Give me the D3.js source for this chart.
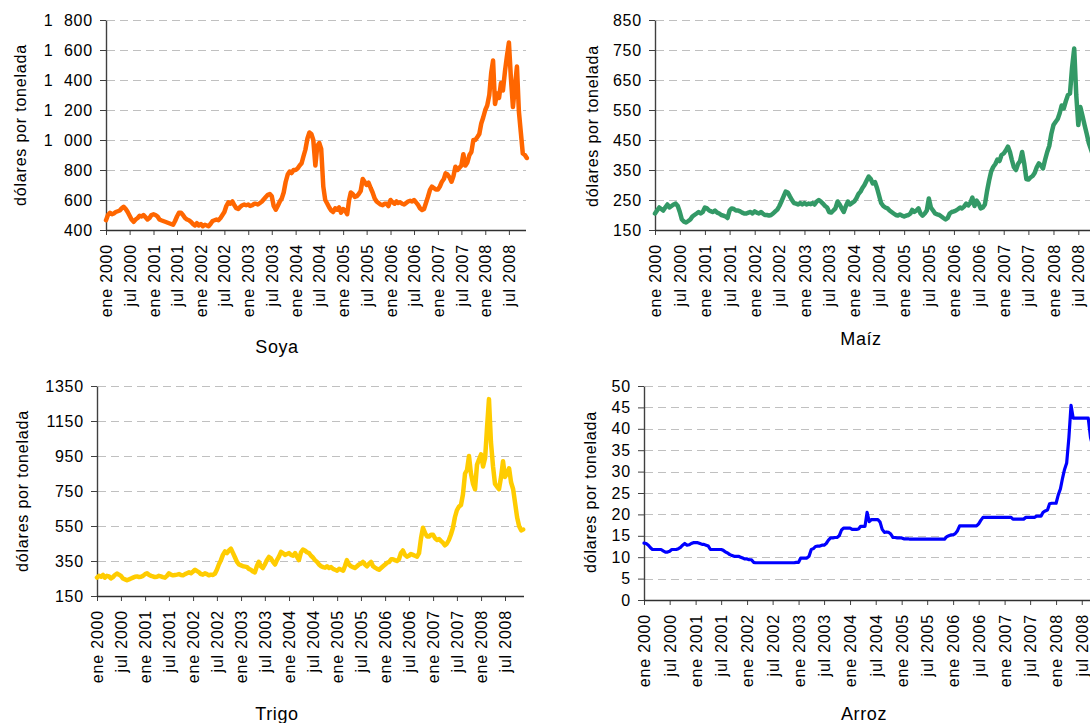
<!DOCTYPE html>
<html>
<head>
<meta charset="utf-8">
<script src="https://d3js.org/d3.v7.min.js"></script>
<style>
body { margin: 0; background: #fff; }
svg text { font-family: "Liberation Sans", Arial, sans-serif; fill: #000; }
</style>
</head>
<body>
<div id="chart"></div>
<script>

// precios, dos lecturas por mes (dia 1 y 16), ene 2000 - nov 2008
var soya = [
  465,500, 515,505, 510,520, 525,530, 545,555, 540,520, 495,470, 455,470, 480,495, 490,500, 485,470, 480,500,
  505,500, 490,470, 465,460, 455,450, 445,440, 435,460, 490,515, 515,500, 480,470, 465,455, 440,430, 445,430,
  440,425, 435,430, 425,440, 460,465, 470,465, 480,500, 520,560, 585,575, 590,565, 545,540, 555,565, 570,565,
  570,560, 565,575, 575,570, 580,590, 605,620, 635,640, 625,560, 535,560, 590,610, 650,720, 770,790, 780,800,
  800,810, 830,845, 890,935, 1010,1050, 1040,1000, 830,960, 980,940, 690,600, 575,550, 530,520, 545,535, 550,515,
  540,530, 505,600, 650,640, 620,625, 640,660, 740,720, 700,715, 680,650, 610,590, 580,570, 565,575, 575,560,
  600,585, 575,590, 580,585, 575,570, 580,590, 595,590, 600,585, 567,545, 533,540, 580,620, 667,689, 680,670,
  670,690, 722,740, 778,770, 750,722, 760,822, 800,815, 830,905, 830,850, 900,920, 1000,1000, 1020,1040, 1110,1150,
  1200,1230, 1300,1450, 1530,1240, 1310,1280, 1380,1330, 1460,1560, 1650,1420, 1220,1350, 1490,1190, 1050,910, 900,880
]

var maiz = [
  205,215, 225,220, 215,225, 235,225, 230,235, 238,230, 210,185, 178,175, 180,185, 195,200, 205,210, 205,210,
  225,222, 215,212, 210,215, 208,205, 200,198, 195,190, 215,222, 220,215, 215,212, 208,205, 205,208, 210,205,
  212,208, 205,210, 205,200, 200,198, 200,205, 212,218, 230,245, 262,278, 275,262, 250,240, 238,235, 240,235,
  240,235, 238,236, 240,235, 245,250, 245,238, 230,225, 210,208, 215,222, 245,235, 222,210, 230,245, 235,240,
  245,255, 270,278, 290,300, 315,328, 320,305, 310,290, 265,240, 230,225, 222,215, 210,205, 200,198, 202,198,
  195,198, 200,205, 217,210, 215,222, 205,198, 205,215, 255,225, 215,205, 202,200, 195,190, 185,190,
  205,210, 212,215, 220,225, 222,228, 238,232, 240,258, 230,248, 238,222, 225,235, 280,315, 345,360, 370,385,
  380,400, 405,415, 428,410, 385,360, 350,370, 380,410, 370,320, 318,325, 330,340, 360,372, 365,355, 385,410,
  430,470, 500,510, 520,540, 565,555, 580,600, 605,690, 755,600, 500,560, 530,500, 470,440, 420,400
]

var trigo = [
  255,265, 260,270, 255,265, 262,250, 258,270, 278,272, 265,250, 245,240, 245,250, 255,260, 262,258, 260,265,
  275,280, 270,265, 262,258, 260,265, 262,258, 255,265, 280,272, 268,270, 272,275, 270,268, 275,280, 285,280,
  290,300, 292,285, 275,272, 280,275, 268,272, 270,278, 300,330, 355,385, 405,395, 410,420, 395,370, 345,330,
  325,320, 318,315, 305,300, 290,285, 320,345, 320,310, 330,355, 373,365, 345,330, 355,375, 402,395, 385,390,
  395,385, 380,395, 375,355, 400,415, 410,400, 395,380, 370,355, 345,330, 320,315, 312,320, 310,315, 305,300,
  295,305, 300,295, 320,355, 330,320, 315,310, 320,330, 335,345, 330,320, 335,345, 320,312, 305,300, 310,320,
  330,340, 345,360, 360,355, 350,360, 395,410, 385,375, 380,390, 385,380, 375,395, 480,540, 510,490, 490,500,
  500,480, 470,475, 465,455, 440,450, 470,500, 540,600, 640,660, 670,730, 850,870, 950,850, 790,760, 900,930,
  960,890, 940,1120, 1275,1030, 890,790, 775,760, 830,920, 830,850, 880,800, 760,680, 600,550, 525,530
]

var arroz = [
  13.3,13.2, 12.8,12.2, 11.8,11.8, 11.8,11.8, 11.8,11.5, 11.2,11.2, 11.4,11.8, 11.8,11.8, 12.0,12.3, 12.8,13.2, 12.8,12.9, 13.2,13.4,
  13.4,13.4, 13.2,13.0, 13.0,12.8, 12.6,11.8, 11.8,11.8, 11.8,11.8, 11.8,11.6, 11.2,11.0, 10.6,10.4, 10.2,10.2, 10.2,10.0, 9.8,9.6,
  9.6,9.4, 9.4,8.8, 8.7,8.7, 8.7,8.7, 8.7,8.7, 8.7,8.7, 8.7,8.7, 8.7,8.7, 8.7,8.7, 8.7,8.7, 8.7,8.7, 8.7,8.8,
  8.8,9.8, 9.8,9.8, 9.8,10.2, 11.8,12.0, 12.5,12.6, 12.6,12.8, 12.8,13.2, 14.0,14.5, 14.5,14.6, 14.6,15.0, 16.3,16.8, 16.8,16.8,
  16.8,16.5, 16.5,16.5, 16.6,17.2, 17.2,17.2, 20.5,18.3, 18.8,18.8, 18.8,18.8, 18.2,16.5, 15.8,15.9, 15.8,15.4, 14.6,14.6, 14.5,14.5,
  14.5,14.3, 14.3,14.3, 14.2,14.2, 14.2,14.2, 14.2,14.2, 14.2,14.2, 14.2,14.2, 14.2,14.2, 14.2,14.2, 14.2,14.2, 14.2,14.8, 15.0,15.2,
  15.2,15.5, 16.2,17.3, 17.3,17.3, 17.3,17.3, 17.3,17.3, 17.3,17.3, 17.8,18.6, 19.3,19.3, 19.3,19.3, 19.3,19.3, 19.3,19.3, 19.3,19.3,
  19.3,19.3, 19.3,19.3, 18.9,18.9, 18.9,18.9, 18.9,18.9, 19.3,19.3, 19.3,19.3, 19.3,19.6, 19.6,19.6, 20.5,20.8, 21.0,22.5, 22.6,22.6,
  22.6,24.5, 26.0,28.5, 30.5,32.0, 38.0,45.5, 42.5,42.5, 42.5,42.5, 42.5,42.5, 42.5,42.5, 38.0,36.0, 34.0,33.0, 32.0,31.0
]

var names = ["Soya", "Maíz", "Trigo", "Arroz"]
var colors = ["#ff6600", "#339966", "#ffcc00", "#0000ff"]
var yDomains = [[400, 1800], [150, 850], [150, 1350], [0, 50]]
var ySteps = [200, 100, 200, 5]
var monthNames = ["ene", "jul"]
var yLabel = "dólares por tonelada"

var series = [soya, maiz, trigo, arroz]

// fechas: dia 1 y 16 de cada mes
var dates = []
for (var yr = 2000; yr <= 2008; yr++) {
  for (var m = 0; m < 12; m++) {
    dates.push(new Date(yr, m, 1))
    dates.push(new Date(yr, m, 16))
  }
}

// posicion de cada grafico
var panels = [
  {x0: 106, x1: 526,  hy: 23.7,  top: 20,  bottom: 230, lx: 20,  ly: 125, tx: 277, ty: 353, lw: 4.5, sep: true},
  {x0: 655, x1: 1100, hy: 24.9,  top: 20,  bottom: 230, lx: 592, ly: 126, tx: 861, ty: 345, lw: 4.5, sep: false},
  {x0: 97,  x1: 524,  hy: 24.0,  top: 386, bottom: 596, lx: 22,  ly: 491, tx: 277, ty: 720, lw: 4.5, sep: false},
  {x0: 644, x1: 1100, hy: 25.75, top: 386, bottom: 600, lx: 590, ly: 492, tx: 864, ty: 720, lw: 3.2, sep: false}
]

var svg = d3.select("#chart").append("svg")
    .attr("width", 1090)
    .attr("height", 723)

var font = '"Liberation Sans", Arial, sans-serif'

panels.forEach(function(p, i) {

  var vals = series[i]

  var x = d3.scaleTime()
      .domain([new Date(2000, 0, 1), new Date(2008, 6, 1)])
      .range([p.x0, p.x0 + 17 * p.hy])

  var y = d3.scaleLinear()
      .domain(yDomains[i])
      .range([p.bottom, p.top])

  var yTicks = d3.range(yDomains[i][0], yDomains[i][1] + 0.001, ySteps[i])

  var g = svg.append("g")

  // GRIDLINES
  g.selectAll(".grid")
    .data(yTicks.slice(1))
    .enter()
    .append("line")
      .attr("x1", p.x0 + 1)
      .attr("x2", p.x1)
      .attr("y1", function(d) { return Math.round(y(d)) + 0.5 })
      .attr("y2", function(d) { return Math.round(y(d)) + 0.5 })
      .attr("stroke", "#c0c0c0")
      .attr("stroke-width", 1)
      .attr("stroke-dasharray", "8,5")

  // Y AXIS
  var fmt = function(d) {
    if (p.sep && d >= 1000) return Math.floor(d / 1000) + "\u00a0\u00a0" + d3.format("03d")(d % 1000)
    return String(d)
  }

  var ya = g.append("g")
      .attr("transform", "translate(" + p.x0 + ",0)")
      .call(d3.axisLeft(y).tickValues(yTicks).tickSize(6).tickSizeOuter(0).tickPadding(7).tickFormat(fmt))
  ya.attr("font-size", 16).attr("font-family", font)
  ya.selectAll("text").style("letter-spacing", "0.8px")
  ya.select(".domain").attr("stroke", "#404040").attr("stroke-width", 1.4)
  ya.selectAll(".tick line").attr("stroke", "#404040")

  // X AXIS
  var xTicks = d3.timeMonth.range(new Date(2000, 0, 1), new Date(2008, 6, 2), 6)

  var xa = g.append("g")
      .attr("transform", "translate(0," + p.bottom + ")")
      .call(d3.axisBottom(x).tickValues(xTicks).tickSize(5)
        .tickFormat(function(d) { return monthNames[d.getMonth() === 0 ? 0 : 1] + " " + d.getFullYear() }))
  xa.attr("font-size", 16).attr("font-family", font)
  xa.select(".domain").remove()
  xa.selectAll(".tick line").attr("stroke", "#404040")
  xa.selectAll(".tick text")
      .attr("transform", "rotate(-90)")
      .attr("x", -14)
      .attr("y", 0)
      .attr("dy", "0.35em")
      .style("text-anchor", "end")
      .style("letter-spacing", "0.8px")

  g.append("line")
      .attr("x1", p.x0)
      .attr("x2", p.x1)
      .attr("y1", p.bottom + 0.5)
      .attr("y2", p.bottom + 0.5)
      .attr("stroke", "#303030")
      .attr("stroke-width", 1.4)

  // SERIES
  var line = d3.line()
      .x(function(d, j) { return x(dates[j]) })
      .y(function(d) { return y(d) })

  g.append("path")
      .datum(vals)
      .attr("d", line)
      .attr("fill", "none")
      .attr("stroke", colors[i])
      .attr("stroke-width", p.lw)
      .attr("stroke-linejoin", "round")
      .attr("stroke-linecap", "round")

  // Y LABEL
  g.append("text")
      .attr("transform", "translate(" + p.lx + "," + p.ly + ") rotate(-90)")
      .attr("dy", "0.35em")
      .style("text-anchor", "middle")
      .style("font-size", "16px")
      .style("letter-spacing", "0.8px")
      .text(yLabel)

  // TITLE
  g.append("text")
      .attr("x", p.tx)
      .attr("y", p.ty)
      .style("text-anchor", "middle")
      .style("font-size", "18px")
      .style("letter-spacing", "0.6px")
      .text(names[i])
})

</script>
</body>
</html>
